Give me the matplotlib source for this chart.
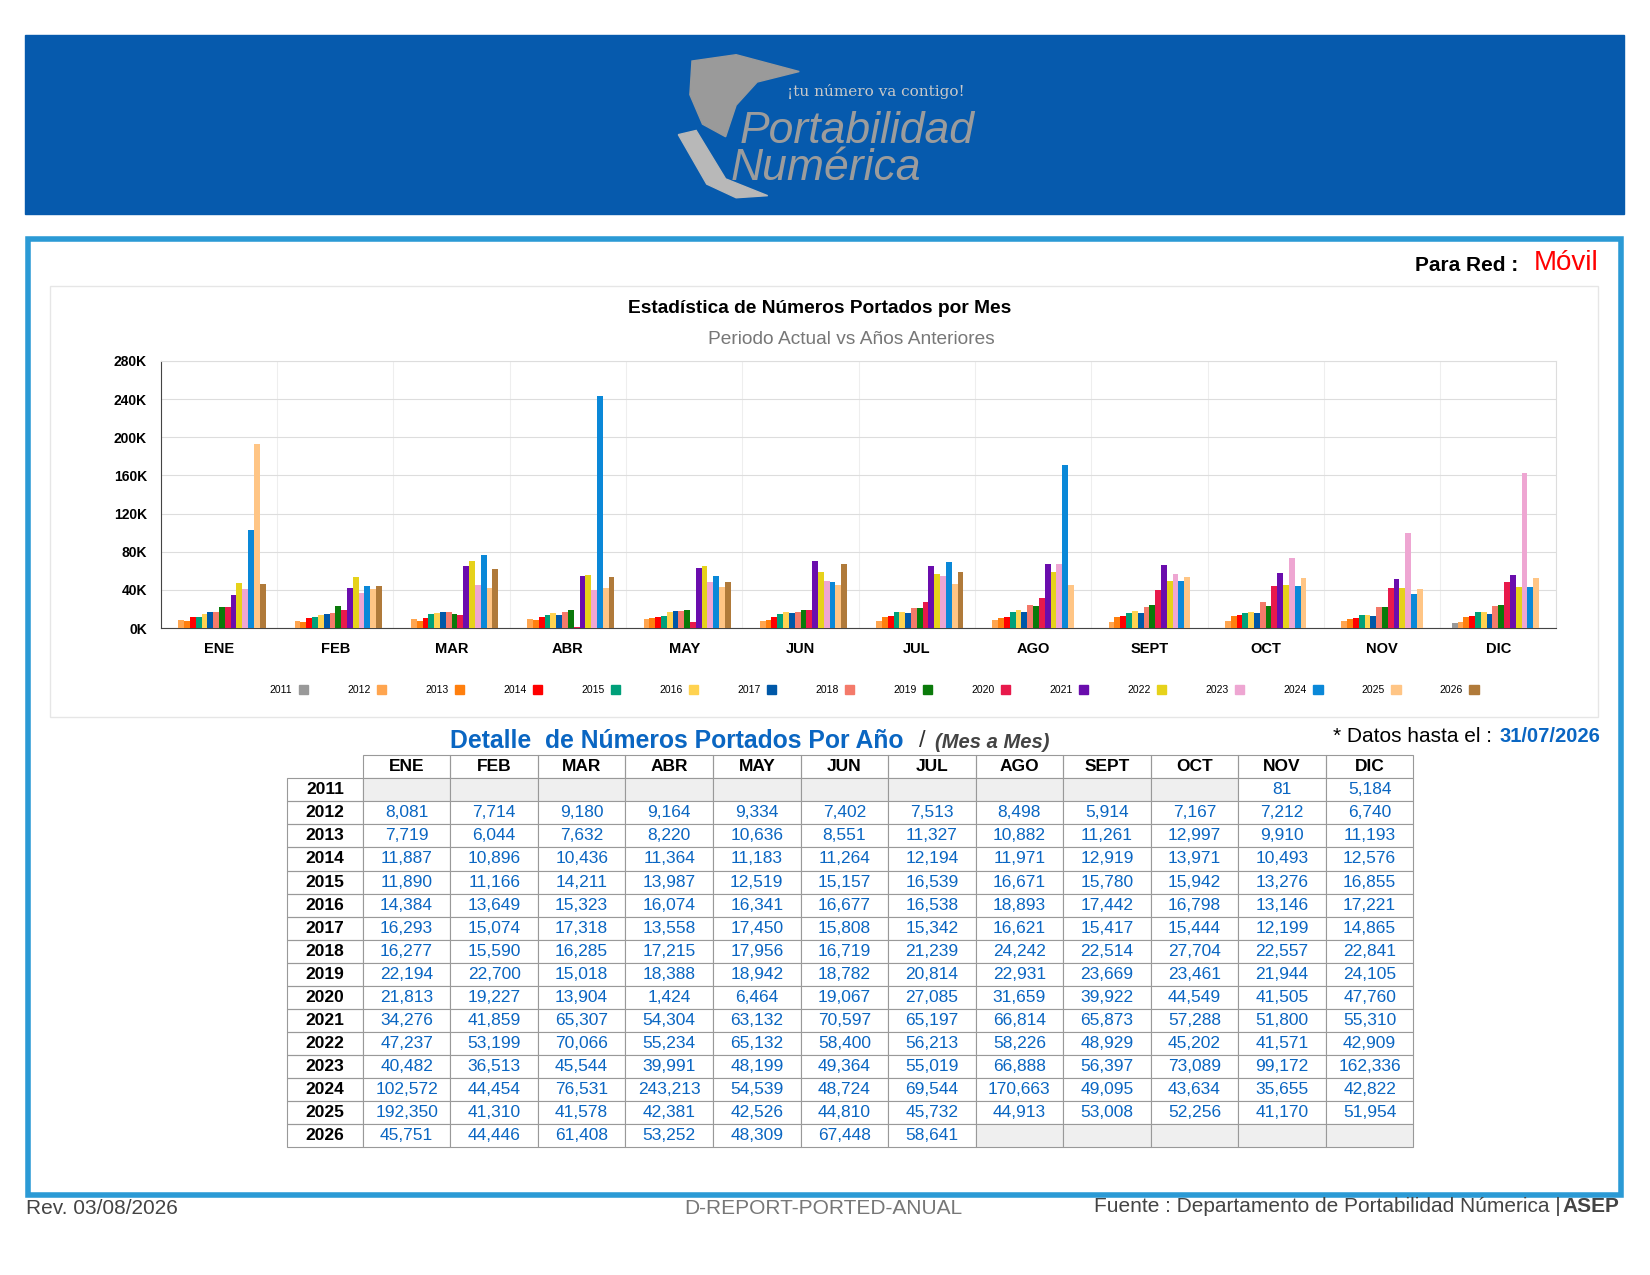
import matplotlib
matplotlib.use("Agg")
import matplotlib.pyplot as plt
import numpy as np
from matplotlib.patches import Rectangle, Polygon

plt.rcParams['font.family'] = ['Liberation Sans', 'DejaVu Sans']

W, H = 1569, 1212  # reference-reading coordinate space
months = ["ENE","FEB","MAR","ABR","MAY","JUN","JUL","AGO","SEPT","OCT","NOV","DIC"]
years = list(range(2011, 2027))
N = None
d2011 = [N,N,N,N,N,N,N,N,N,N,81,5184]
d2012 = [8081,7714,9180,9164,9334,7402,7513,8498,5914,7167,7212,6740]
d2013 = [7719,6044,7632,8220,10636,8551,11327,10882,11261,12997,9910,11193]
d2014 = [11887,10896,10436,11364,11183,11264,12194,11971,12919,13971,10493,12576]
d2015 = [11890,11166,14211,13987,12519,15157,16539,16671,15780,15942,13276,16855]
d2016 = [14384,13649,15323,16074,16341,16677,16538,18893,17442,16798,13146,17221]
d2017 = [16293,15074,17318,13558,17450,15808,15342,16621,15417,15444,12199,14865]
d2018 = [16277,15590,16285,17215,17956,16719,21239,24242,22514,27704,22557,22841]
d2019 = [22194,22700,15018,18388,18942,18782,20814,22931,23669,23461,21944,24105]
d2020 = [21813,19227,13904,1424,6464,19067,27085,31659,39922,44549,41505,47760]
d2021 = [34276,41859,65307,54304,63132,70597,65197,66814,65873,57288,51800,55310]
d2022 = [47237,53199,70066,55234,65132,58400,56213,58226,48929,45202,41571,42909]
d2023 = [40482,36513,45544,39991,48199,49364,55019,66888,56397,73089,99172,162336]
d2024 = [102572,44454,76531,243213,54539,48724,69544,170663,49095,43634,35655,42822]
d2025 = [192350,41310,41578,42381,42526,44810,45732,44913,53008,52256,41170,51954]
d2026 = [45751,44446,61408,53252,48309,67448,58641,N,N,N,N,N]
data = [d2011,d2012,d2013,d2014,d2015,d2016,d2017,d2018,d2019,d2020,d2021,d2022,d2023,d2024,d2025,d2026]
colors = ["#999999","#ffa54f","#ff7f0e","#ff0000","#00a07a","#ffd250","#0058a8","#f47a6a",
          "#0a7a0a","#e8194b","#6a0dad","#e6d21a","#eea6d2","#0a88d8","#ffc585","#b07a3a"]

fig = plt.figure(figsize=(16.5, 12.75), dpi=100)
fig.patch.set_facecolor("white")

def fx(x): return x / W
def fy(y): return 1 - y / H
def box(x0, y0, x1, y1): return [fx(x0), fy(y1), (x1-x0)/W, (y1-y0)/H]

ov = fig.add_axes([0, 0, 1, 1], zorder=0)
ov.set_xlim(0, W); ov.set_ylim(H, 0); ov.axis("off")

# header
ov.add_patch(Rectangle((24, 33), 1520, 170, color="#065aad", zorder=0))
ov.add_patch(Polygon([[658,58],[700,52],[760,68],[720,78],[700,100],[690,130],[668,118],[656,90]],
                     closed=True, color="#9a9a9a", zorder=1))
ov.add_patch(Polygon([[645,128],[662,124],[690,170],[730,186],[700,188],[672,175]],
                     closed=True, color="#b8b8b8", zorder=1))
ov.text(748, 87, "¡tu número va contigo!", color="#c8c8c8", fontsize=11, family="DejaVu Serif", va="center")
ov.text(703, 125, "Portabilidad", color="#9c9c9c", fontsize=32, style="italic", va="center")
ov.text(695, 160, "Numérica", color="#9c9c9c", fontsize=32, style="italic", va="center")

# outer box
ov.add_patch(Rectangle((27, 227), 1514, 909, fill=False, edgecolor="#2b9ad5", linewidth=4))
ov.text(1444, 252, "Para Red :", ha="right", va="center", fontsize=15, fontweight="bold")
ov.text(1520, 250, "Móvil", ha="right", va="center", fontsize=20, color="#ff0000")
ov.add_patch(Rectangle((48, 272), 1472, 410, fill=False, edgecolor="#e6e6e6", linewidth=1))
ov.text(779, 293, "Estadística de Números Portados por Mes", ha="center", va="center", fontsize=13.8, fontweight="bold")
ov.text(810, 323, "Periodo Actual vs Años Anteriores", ha="center", va="center", fontsize=13.8, color="#777777")

ax = fig.add_axes(box(153, 343, 1480, 597))
x = np.arange(12)
bw = 0.8 / 16
for i, (yr, vals, c) in enumerate(zip(years, data, colors)):
    v = np.array([np.nan if a is None else a for a in vals], dtype=float)
    ax.bar(x - 0.4 + bw*(i+0.5), v, bw, color=c, zorder=3)
ax.set_xlim(-0.5, 11.5)
ax.set_ylim(0, 280000)
ax.set_yticks(np.arange(0, 280001, 40000))
ax.set_yticklabels([f"{int(t/1000)}K" for t in np.arange(0, 280001, 40000)], fontsize=10, fontweight="bold")
ax.set_xticks(x)
ax.set_xticklabels(months, fontsize=10.5, fontweight="bold")
ax.tick_params(length=0, pad=10)
ax.set_xticks(np.arange(-0.5, 12, 1), minor=True)
ax.tick_params(which="minor", length=0)
ax.grid(axis="y", color="#dddddd", zorder=0)
ax.grid(axis="x", which="minor", color="#eeeeee", zorder=0)
for s in ["top", "right"]:
    ax.spines[s].set_color("#dddddd")
ax.spines["left"].set_color("#444444")
ax.spines["bottom"].set_color("#444444")

for i, (yr, c) in enumerate(zip(years, colors)):
    lx = 255 + i * 74.2
    ov.text(lx + 23, 656, str(yr), ha="right", va="center", fontsize=7.5)
    ov.add_patch(Rectangle((lx + 29, 651), 9, 9, color=c))

ov.text(428, 704, "Detalle  de Números Portados Por Año", color="#0a66c2", fontsize=17.8, fontweight="bold", va="center")
ov.text(874, 704, "/", color="#333333", fontsize=17, va="center")
ov.text(889, 706, "(Mes a Mes)", color="#444444", fontsize=14.5, fontweight="bold", style="italic", va="center")
ov.text(1268, 700, "* Datos hasta el :", fontsize=15, va="center")
ov.text(1522, 700, "31/07/2026", fontsize=14.5, fontweight="bold", color="#0a66c2", va="center", ha="right")

tx0, ty0 = 273, 718
cw0, cw, rh = 72, 83.25, 21.9
for j, m in enumerate(months):
    xx = tx0 + cw0 + j*cw
    ov.add_patch(Rectangle((xx, ty0), cw, rh, fill=False, edgecolor="#999999", lw=0.8))
    ov.text(xx + cw/2, ty0 + rh/2, m, ha="center", va="center", fontsize=12.5, fontweight="bold")
for i, (yr, vals) in enumerate(zip(years, data)):
    yy = ty0 + rh*(i+1)
    ov.add_patch(Rectangle((tx0, yy), cw0, rh, fill=False, edgecolor="#999999", lw=0.8))
    ov.text(tx0 + cw0/2, yy + rh/2, str(yr), ha="center", va="center", fontsize=12.5, fontweight="bold")
    for j, v in enumerate(vals):
        xx = tx0 + cw0 + j*cw
        fc = "#efefef" if v is None else "white"
        ov.add_patch(Rectangle((xx, yy), cw, rh, facecolor=fc, edgecolor="#999999", lw=0.8))
        if v is not None:
            ov.text(xx + cw/2, yy + rh/2, f"{v:,}", ha="center", va="center", fontsize=12.5, color="#0a66c2")

ov.text(25, 1149, "Rev. 03/08/2026", fontsize=15, color="#444444", va="center")
ov.text(783, 1149, "D-REPORT-PORTED-ANUAL", fontsize=15, color="#777777", va="center", ha="center")
ov.text(1484, 1147, "Fuente : Departamento de Portabilidad Númerica |", fontsize=15, color="#444444", va="center", ha="right")
ov.text(1540, 1147, "ASEP", fontsize=15, fontweight="bold", color="#444444", va="center", ha="right")

fig.savefig("out.png", dpi=100)
